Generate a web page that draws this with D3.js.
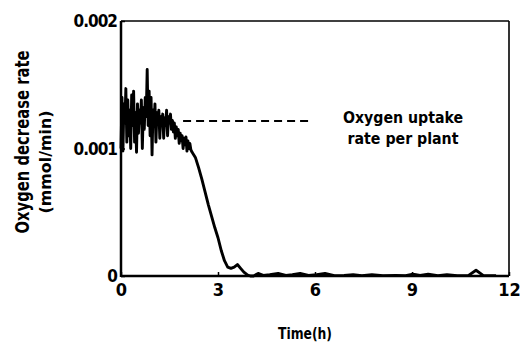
<!DOCTYPE html>
<html><head><meta charset="utf-8">
<script src="https://cdn.jsdelivr.net/npm/d3@7"></script>
<style>html,body{margin:0;padding:0;background:#fff;}svg{display:block;}</style>
</head><body><svg id="c" width="523" height="345"></svg>
<script>
const timeH = [0.00,0.03,0.06,0.09,0.12,0.15,0.18,0.21,0.24,0.27,0.30,0.33,0.36,0.39,0.42,0.45,0.48,0.51,0.54,0.57,0.60,0.63,0.66,0.69,0.72,0.75,0.78,0.81,0.84,0.87,0.90,0.93,0.96,0.99,1.02,1.05,1.08,1.11,1.14,1.17,1.20,1.23,1.26,1.29,1.32,1.35,1.38,1.41,1.44,1.47,1.50,1.53,1.56,1.59,1.62,1.65,1.68,1.71,1.74,1.77,1.80,1.83,1.86,1.89,1.92,1.95,1.98,2.01,2.04,2.07,2.10,2.13,2.16,2.20,
2.30,2.40,2.50,2.60,2.70,2.80,2.90,3.00,3.10,3.20,3.30,3.40,3.50,3.60,3.70,3.80,3.90,4.00,
4.10,4.24,4.40,4.60,4.86,5.10,5.30,5.54,5.80,6.05,6.31,6.60,6.90,7.18,7.45,7.76,8.10,8.50,8.80,9.03,9.25,9.50,9.80,10.08,10.40,10.75,10.98,11.20,11.60];
const rate = [0.00100,0.00140,0.00098,0.00135,0.00120,0.00147,0.00105,0.00138,0.00110,0.00130,0.00100,0.00142,0.00118,0.00145,0.00105,0.00128,0.00097,0.00135,0.00112,0.00130,0.00120,0.00138,0.00100,0.00132,0.00115,0.00140,0.00125,0.00162,0.00118,0.00145,0.00110,0.00140,0.00095,0.00130,0.00118,0.00135,0.00105,0.00128,0.00120,0.00130,0.00108,0.00125,0.00118,0.00127,0.00108,0.00124,0.00118,0.00130,0.00110,0.00125,0.00120,0.00127,0.00115,0.00122,0.00113,0.00120,0.00108,0.00117,0.00110,0.00115,0.00104,0.00112,0.00106,0.00110,0.00100,0.00108,0.00103,0.00109,0.00098,0.00106,0.00100,0.00104,0.00099,0.00097,
0.00093,0.00085,0.00076,0.00066,0.00056,0.00047,0.00038,0.00030,0.00020,0.00012,0.00007,0.00006,0.00007,0.00009,0.00006,0.00003,0.00001,0.0,
0.0,0.00002,0.000005,0.00001,0.00002,0.000005,0.00001,0.00002,0.000005,0.00001,0.00002,0.000003,0.000005,0.00001,0.000003,0.00001,0.000003,0.000005,0.000003,0.000015,0.000005,0.000015,0.000003,0.00001,0.000003,0.000005,0.000045,0.000005,0.000003];
const uptakeRate = 0.001216;
const uptakeSpan = [1.92, 5.86];
const xTicks = [0,3,6,9,12];
const yTicks = [0,0.001,0.002];
const yTickLabels = ["0","0.001","0.002"];
const legendLines = ["Oxygen uptake","rate per plant"];

const svg = d3.select("#c");
const L=121, R=509, T=21, B=276;
const x = d3.scaleLinear().domain([0,12]).range([L,R]);
const y = d3.scaleLinear().domain([0,0.002]).range([B,T]);
const font = "'DejaVu Sans Condensed','DejaVu Sans',sans-serif";

// curve
const pts = timeH.map((t,i)=>[t,rate[i]]);
svg.append("path").datum(pts)
  .attr("d", d3.line().x(d=>x(d[0])).y(d=>y(d[1])))
  .attr("fill","none").attr("stroke","#000").attr("stroke-width",2.9).attr("stroke-linejoin","round");

// dashed uptake line
svg.append("line").attr("x1",x(uptakeSpan[0])).attr("x2",x(uptakeSpan[1]))
  .attr("y1",y(uptakeRate)).attr("y2",y(uptakeRate))
  .attr("stroke","#000").attr("stroke-width",2).attr("stroke-dasharray","8,5");

// axes
const xa = svg.append("g").attr("transform",`translate(0,${B})`)
  .call(d3.axisBottom(x).tickValues(xTicks).tickSize(-4).tickPadding(10).tickFormat(d3.format("d")));
const ya = svg.append("g").attr("transform",`translate(${L},0)`)
  .call(d3.axisLeft(y).tickValues(yTicks).tickSize(-4).tickPadding(4).tickFormat((d,i)=>yTickLabels[i]));
[xa,ya].forEach(g=>{
  g.select(".domain").remove();
  g.selectAll("line").attr("stroke","#000").attr("stroke-width",1.5);
  g.selectAll("text").attr("font-family",font).attr("font-weight","bold").attr("fill","#000");
});
xa.selectAll("text").attr("font-size",18).attr("dy","0.55em");
ya.selectAll("text").attr("font-size",17).attr("dy","0.35em").attr("letter-spacing","-1");

// frame
svg.append("line").attr("x1",L).attr("x2",L).attr("y1",T).attr("y2",B+1).attr("stroke","#000").attr("stroke-width",2.5);
svg.append("line").attr("x1",L).attr("x2",R).attr("y1",B).attr("y2",B).attr("stroke","#000").attr("stroke-width",2.5);
svg.append("line").attr("x1",L).attr("x2",R).attr("y1",T).attr("y2",T).attr("stroke","#000").attr("stroke-width",1.6);
svg.append("line").attr("x1",R).attr("x2",R).attr("y1",T).attr("y2",B).attr("stroke","#000").attr("stroke-width",1.6);

// legend text
legendLines.forEach((s,i)=>{
  svg.append("text").attr("x",403).attr("y",123+i*21).attr("text-anchor","middle")
    .attr("font-family",font).attr("font-weight","bold").attr("font-size",16)
    .attr("textLength", i===0?120:111).attr("lengthAdjust","spacingAndGlyphs").text(s);
});

// axis titles
svg.append("text").attr("x",305).attr("y",339).attr("text-anchor","middle")
  .attr("font-family",font).attr("font-weight","bold").attr("font-size",16)
  .attr("textLength",54).attr("lengthAdjust","spacingAndGlyphs").text("Time(h)");
svg.append("text").attr("transform","translate(29,142) rotate(-90)").attr("text-anchor","middle")
  .attr("font-family",font).attr("font-weight","bold").attr("font-size",19)
  .attr("textLength",183).attr("lengthAdjust","spacingAndGlyphs").text("Oxygen decrease rate");
svg.append("text").attr("transform","translate(51,162) rotate(-90)").attr("text-anchor","middle")
  .attr("font-family",font).attr("font-weight","bold").attr("font-size",15)
  .attr("textLength",103).attr("lengthAdjust","spacingAndGlyphs").text("(mmol/min)");
</script></body></html>
